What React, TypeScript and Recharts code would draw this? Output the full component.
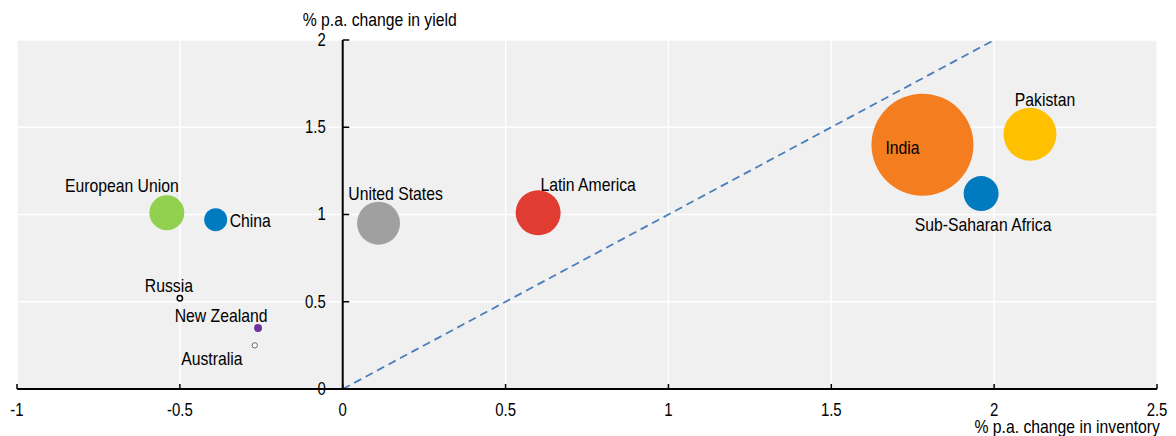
import { ScatterChart, Scatter, XAxis, YAxis, ZAxis, CartesianGrid, ReferenceLine, LabelList, Cell } from 'recharts';

const countries = ['European Union', 'China', 'Russia', 'New Zealand', 'Australia', 'United States', 'Latin America', 'India', 'Pakistan', 'Sub-Saharan Africa'];
const inventoryChange = [-0.54, -0.39, -0.5, -0.26, -0.27, 0.11, 0.6, 1.78, 2.11, 1.96];
const yieldChange = [1.01, 0.97, 0.52, 0.35, 0.25, 0.95, 1.01, 1.4, 1.46, 1.12];
const bubbleSize = [306, 132, 7, 16, 7, 462, 506, 2601, 702, 306];

const xTicks = [-1, -0.5, 0, 0.5, 1, 1.5, 2, 2.5];
const yTicks = [0, 0.5, 1, 1.5, 2];
const parityLine = [{ x: 0, y: 0 }, { x: 2, y: 2 }];

const data = countries.map((name, i) => ({ name, x: inventoryChange[i], y: yieldChange[i], z: bubbleSize[i] }));

const FONT = "'Liberation Sans', Arial, sans-serif";
const SQUEEZE = 0.83; // no Arial Narrow available, so condense horizontally

const bubbleStyle: Record<string, { fill: string; stroke?: string; strokeWidth?: number }> = {
  'European Union': { fill: '#92d050' },
  China: { fill: '#007bc0' },
  Russia: { fill: '#ffffff', stroke: '#000000', strokeWidth: 1.5 },
  'New Zealand': { fill: '#7030a0' },
  Australia: { fill: '#ffffff', stroke: '#666666', strokeWidth: 1 },
  'United States': { fill: '#a0a0a0' },
  'Latin America': { fill: '#e03c31' },
  India: { fill: '#f47d20' },
  Pakistan: { fill: '#ffc000' },
  'Sub-Saharan Africa': { fill: '#007bc0' },
};

// label placement relative to bubble centre
const labelPlace: Record<string, { dx: number; dy: number; anchor: string }> = {
  'European Union': { dx: -45, dy: -27, anchor: 'middle' },
  China: { dx: 14, dy: 1, anchor: 'start' },
  Russia: { dx: -11, dy: -13, anchor: 'middle' },
  'New Zealand': { dx: -37, dy: -12, anchor: 'middle' },
  Australia: { dx: -43, dy: 13, anchor: 'middle' },
  'United States': { dx: 17, dy: -30, anchor: 'middle' },
  'Latin America': { dx: 50, dy: -28, anchor: 'middle' },
  India: { dx: -20, dy: 3, anchor: 'middle' },
  Pakistan: { dx: 15, dy: -35, anchor: 'middle' },
  'Sub-Saharan Africa': { dx: 2, dy: 31, anchor: 'middle' },
};

const NarrowText = ({ x, y, anchor = 'middle', size = 19, baseline, children }: any) => (
  <g transform={`translate(${x},${y}) scale(${SQUEEZE},1)`}>
    <text x={0} y={0} textAnchor={anchor} dominantBaseline={baseline} fontFamily={FONT} fontSize={size} fill="#000">
      {children}
    </text>
  </g>
);

const BubbleLabel = (props: any) => {
  const { x, y, width, height, value } = props;
  const p = labelPlace[value];
  if (!p) return null;
  const cx = x + (width || 0) / 2;
  const cy = y + (height || 0) / 2;
  return (
    <NarrowText x={cx + p.dx} y={cy + p.dy} anchor={p.anchor} baseline="central">
      {value}
    </NarrowText>
  );
};

const XTick = (props: any) => {
  const { x, y, payload } = props;
  return (
    <g>
      <line x1={x} x2={x} y1={y} y2={y - 5} stroke="#000" strokeWidth={1.5} />
      <NarrowText x={x} y={y + 27} size={18}>
        {payload.value}
      </NarrowText>
    </g>
  );
};

export default function App() {
  const maxZ = Math.max(...bubbleSize);
  return (
    <div style={{ position: 'absolute', left: 0, top: 0, width: 1176, height: 436, background: '#fff' }}>
      <ScatterChart width={1176} height={436} margin={{ top: 40, right: 19, bottom: 17, left: 17 }}>
        <CartesianGrid fill="#f0f0f0" fillOpacity={1} stroke="#ffffff" strokeWidth={1.5} />
        <XAxis
          type="number"
          dataKey="x"
          domain={[-1, 2.5]}
          ticks={xTicks}
          allowDataOverflow
          height={30}
          tickSize={0}
          tickMargin={0}
          tickLine={false}
          axisLine={{ stroke: '#000', strokeWidth: 2 }}
          tick={<XTick />}
          label={{
            content: ({ viewBox }: any) => (
              <NarrowText x={viewBox.x + viewBox.width + 3} y={viewBox.y + 44} anchor="end">
                % p.a. change in inventory
              </NarrowText>
            ),
          }}
        />
        <YAxis type="number" dataKey="y" domain={[0, 2]} ticks={yTicks} hide />
        <ZAxis type="number" dataKey="z" domain={[0, maxZ]} range={[0, maxZ * Math.PI]} />
        <ReferenceLine
          x={0}
          stroke="#000"
          strokeWidth={2}
          label={{
            content: ({ viewBox }: any) => (
              <NarrowText x={viewBox.x + 37} y={viewBox.y - 14}>
                % p.a. change in yield
              </NarrowText>
            ),
          }}
        />
        {yTicks.map((t) => (
          <ReferenceLine
            key={t}
            segment={[{ x: 0, y: t }, { x: 0.02, y: t }]}
            stroke="#000"
            strokeWidth={1.5}
            label={{
              content: ({ viewBox }: any) => (
                <NarrowText x={viewBox.x - 17} y={viewBox.y} anchor="end" size={18} baseline="central">
                  {t}
                </NarrowText>
              ),
            }}
          />
        ))}
        <ReferenceLine segment={parityLine} stroke="#4a7ebb" strokeWidth={1.8} strokeDasharray="8 5" />
        <Scatter data={data} isAnimationActive={false}>
          {data.map((d) => (
            <Cell key={d.name} {...bubbleStyle[d.name]} />
          ))}
          <LabelList dataKey="name" content={<BubbleLabel />} />
        </Scatter>
      </ScatterChart>
    </div>
  );
}
